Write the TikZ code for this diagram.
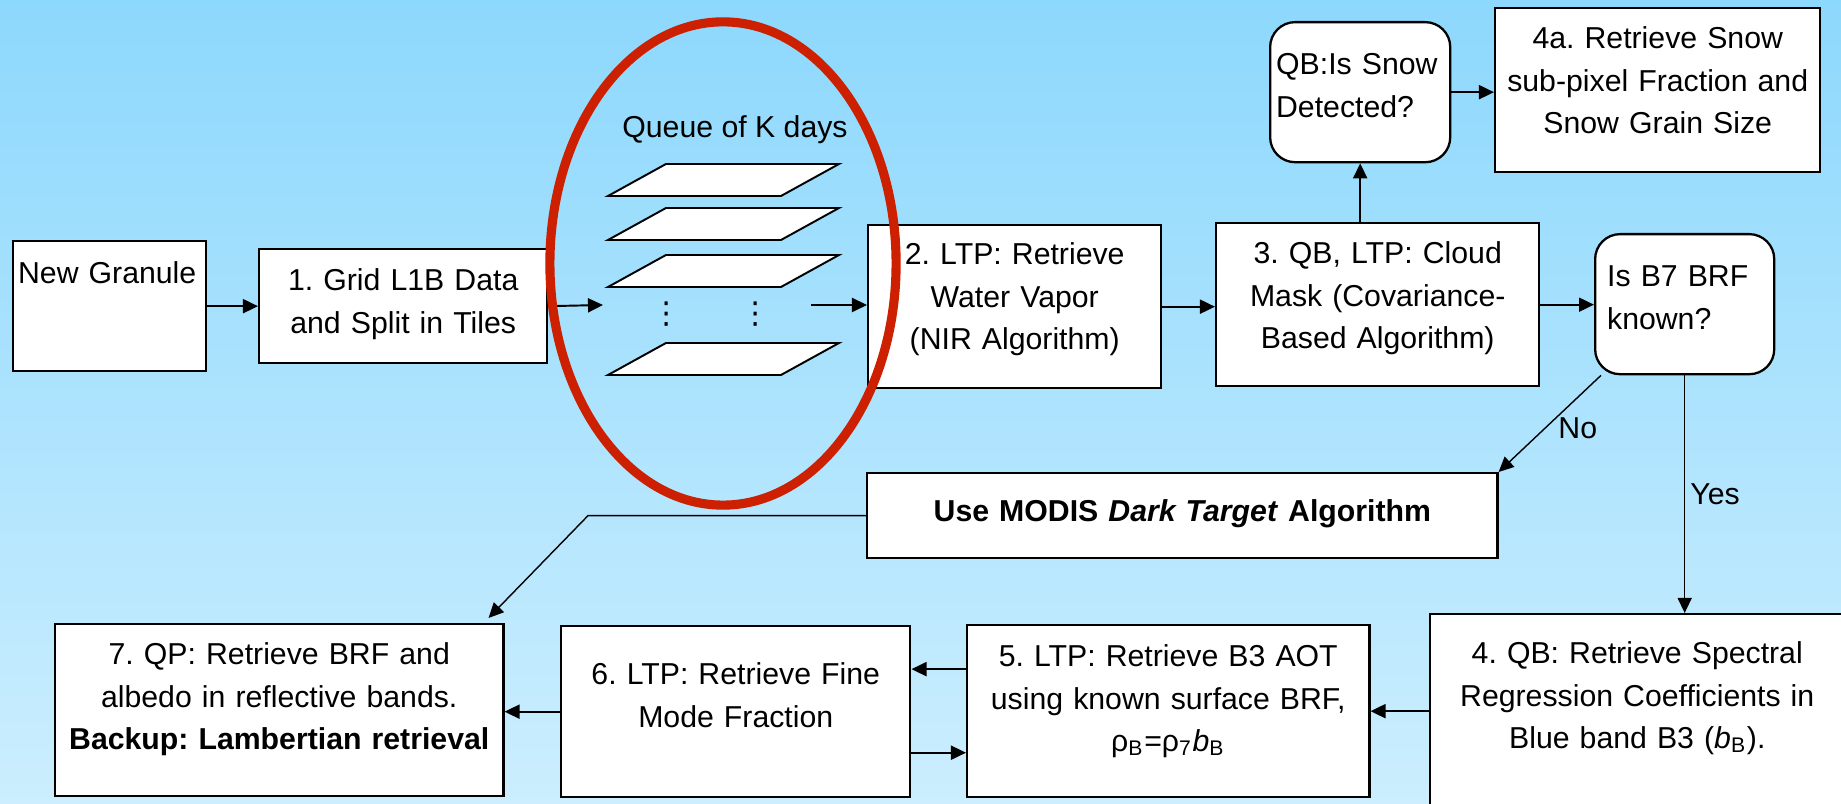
\documentclass[tikz,border=0pt]{standalone}
\usepackage{fontspec}
\setmainfont{Liberation Sans}
\newfontfamily\symfont{DejaVu Sans}
\usetikzlibrary{arrows.meta,shapes.geometric}
\definecolor{skytop}{RGB}{141,216,253}
\definecolor{skybottom}{RGB}{204,238,254}
\definecolor{ringred}{RGB}{204,32,0}
\newcommand{\txtfont}{\fontsize{8.6}{12.2}\selectfont}
\frenchspacing

\begin{document}
\begin{tikzpicture}[x=0.01cm, y=-0.01cm,
  arrow/.style={-{Triangle[length=0.15cm, width=0.14cm]}, line width=0.55pt},
  thinarrow/.style={arrow, line width=0.4pt},
  block/.style={draw, fill=white, line width=0.65pt, anchor=north west,
                inner xsep=0.08cm, inner ysep=0pt, align=center, font=\txtfont},
  query/.style={block, rounded corners=0.25cm, align=left},
  tile/.style={draw, fill=white, line width=0.55pt},
  tag/.style={font=\txtfont, inner sep=0.03cm},
]
  \useasboundingbox (0,0) rectangle (1841,804);
  \clip (0,0) rectangle (1841,804);
  \shade[top color=skytop, bottom color=skybottom] (0,0) rectangle (1841,804);

  % ---- Main row ----
  \node[block, align=left, inner xsep=0.05cm, text width=1.83cm,
        text height=0.42cm, text depth=0.88cm] (ng) at (12,240) {New Granule};
  \node[block, text width=2.72cm, text height=0.41cm, text depth=0.73cm] (b1) at (258,248)
    {1. Grid L1B Data\\and Split in Tiles};
  \node[block, text width=2.77cm, text height=0.39cm, text depth=1.24cm] (b2) at (867,224)
    {2. LTP: Retrieve\\Water Vapor\\(NIR Algorithm)};
  \node[block, text width=3.07cm, text height=0.40cm, text depth=1.23cm] (b3) at (1215,222)
    {3. QB, LTP: Cloud\\Mask (Covariance-\\Based Algorithm)};
  \node[query, inner xsep=0.12cm, text width=1.55cm, text height=0.52cm, text depth=0.88cm]
    (b7q) at (1594,233) {Is B7 BRF\\known?};

  % ---- Snow branch ----
  \node[query, inner xsep=0.06cm, text width=1.68cm, text height=0.52cm, text depth=0.88cm]
    (snow) at (1269,21) {QB:Is Snow\\Detected?};
  \node[block, inner xsep=0.05cm, text width=3.15cm, text height=0.40cm, text depth=1.24cm]
    (s4a) at (1494,7) {4a. Retrieve Snow\\sub-pixel Fraction and\\Snow Grain Size};

  % ---- Queue of tiles ----
  \node[tag, anchor=base] (qlabel) at (735,138) {Queue of K days};
  \foreach \t in {164,208,255,343}
    \draw[tile] (608,\t+32) -- (666,\t) -- (839,\t) -- (781,\t+32) -- cycle;
  \node[inner sep=0pt, anchor=base, font=\txtfont\symfont] (dotsa) at (667,324) {⋮};
  \node[inner sep=0pt, anchor=base, font=\txtfont\symfont] (dotsb) at (756,324) {⋮};
  \coordinate (qin) at (603,305);
  \coordinate (qout) at (811,305);

  % ---- Lower part ----
  \node[block, text width=6.14cm, text height=0.48cm, text depth=0.37cm] (dt) at (866,472)
    {\bfseries Use MODIS \textit{Dark Target} Algorithm};
  \node[block, text width=3.98cm, text height=0.49cm, text depth=1.68cm] (b4) at (1429,613)
    {4. QB: Retrieve Spectral\\Regression Coefficients in\\Blue band B3 (\textit{b}\textsubscript{B}).};
  \node[block, text width=3.86cm, text height=0.41cm, text depth=1.31cm] (b5) at (966,624)
    {5. LTP: Retrieve B3 AOT\\using known surface BRF,\\ρ\textsubscript{B}=ρ\textsubscript{7}\textit{b}\textsubscript{B}};
  \node[block, text width=3.33cm, text height=0.58cm, text depth=1.13cm] (b6) at (560,625)
    {6. LTP: Retrieve Fine\\Mode Fraction};
  \node[block, text width=4.32cm, text height=0.40cm, text depth=1.32cm] (b7) at (54,623)
    {7. QP: Retrieve BRF and\\albedo in reflective bands.\\\textbf{Backup: Lambertian retrieval}};
  \coordinate (dtbend) at (588,514);

  % ---- Arrows (main row) ----
  \draw[arrow] (ng.east) -- (ng.east -| b1.west);
  \draw[arrow] (b1.east) -- (qin);
  \draw[arrow] (qout) -- (qout -| b2.west);
  \draw[arrow] (b2.east) -- (b2.east -| b3.west);
  \draw[arrow] (b3.east) -- (b3.east -| b7q.west);
  \draw[arrow] (snow.south |- b3.north) -- (snow.south);
  \draw[arrow] (snow.east) -- (snow.east -| s4a.west);

  % ---- Arrows (decision) ----
  \draw[thinarrow] ([xshift=0.07cm]b7q.south west) -- node[tag, pos=0.55, anchor=west, xshift=0.1cm]{No} (dt.north east);
  \draw[thinarrow] (b7q.south) -- node[tag, pos=0.5, anchor=west, xshift=0.02cm]{Yes} (b7q.south |- b4.north);

  % ---- Arrows (lower row) ----
  \draw[arrow] (b5.east -| b4.west) -- (b5.east);
  \draw[arrow] ([yshift=0.42cm]b5.west) -- ([yshift=0.42cm]b5.west -| b6.east);
  \draw[arrow] ([yshift=-0.41cm]b6.east) -- ([yshift=-0.41cm]b6.east -| b5.west);
  \draw[arrow] (b6.west) -- (b6.west -| b7.east);
  \draw[thinarrow] (dt.west) -- (dt.west -| dtbend) -- ([xshift=-0.16cm, yshift=0.05cm]b7.north east);

  % ---- Red ring round the queue ----
  \node[draw=ringred, line width=2.6pt, ellipse, inner sep=0pt,
        minimum width=3.46cm, minimum height=4.83cm] (ring) at (723,263.5) {};
\end{tikzpicture}
\end{document}
